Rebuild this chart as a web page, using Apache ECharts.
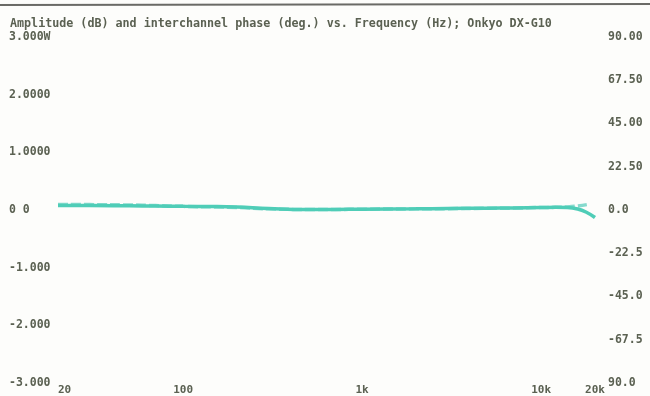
<!DOCTYPE html>
<html lang="en">
<head>
    <meta charset="UTF-8">
    <title>Onkyo DX-G10</title>
    <script src="https://cdn.jsdelivr.net/npm/echarts@6/dist/echarts.min.js"></script>
    <style>
        * { margin: 0; padding: 0; }
        body { background-color: #fdfdfb; overflow: hidden; }
        #main { width: 650px; height: 396px; }
    </style>
</head>
<body>
<div id="main"></div>
<script type="text/javascript">
    // frequencies (Hz)
    var freq = [20, 30, 50, 70, 100, 150, 200, 300, 500, 700, 1000, 2000, 3000, 5000, 7000, 10000, 12000, 14000, 16000, 18000, 20000];
    // amplitude (dB), left axis
    var ampDb = [0.078, 0.078, 0.073, 0.069, 0.064, 0.061, 0.052, 0.026, 0.009, 0.009, 0.014, 0.021, 0.026, 0.031, 0.035, 0.043, 0.047, 0.043, 0.017, -0.043, -0.13];
    // interchannel phase (deg), right axis
    var phaseFreq = [20, 30, 50, 70, 100, 150, 200, 300, 500, 700, 1000, 2000, 3000, 5000, 7000, 10000, 12000, 14000, 16000, 18000];
    var phaseDeg = [2.9, 2.8, 2.6, 2.3, 1.9, 1.6, 1.3, 0.6, 0.3, 0.3, 0.4, 0.6, 0.7, 0.9, 1.0, 1.3, 1.4, 1.6, 2.1, 2.8];
    // tick labels
    var leftLabels = ['-3.000', '-2.000', '-1.000', '0 0', '1.0000', '2.0000', '3.000W'];
    var rightLabels = ['90.0', '-67.5', '-45.0', '-22.5', '0.0', '22.50', '45.00', '67.50', '90.00'];
    var title = 'Amplitude (dB) and interchannel phase (deg.) vs. Frequency (Hz); Onkyo DX-G10';

    var labelColor = '#5b6152';
    var fontFam = '"DejaVu Sans Mono", monospace';

    function pairs(xs, ys) {
        var out = [];
        for (var i = 0; i < xs.length; i++) out.push([xs[i], ys[i]]);
        return out;
    }

    var myChart = echarts.init(document.getElementById('main'));
    var option = {
        backgroundColor: '#fdfdfb',
        animation: false,
        title: {
            text: title,
            left: 10,
            top: 18,
            padding: 0,
            textStyle: { color: labelColor, fontFamily: fontFam, fontSize: 11.7, fontWeight: 'bold' }
        },
        graphic: [{
            type: 'line',
            shape: { x1: 0, y1: 5, x2: 650, y2: 4 },
            style: { stroke: '#6a6a66', lineWidth: 2 }
        }],
        grid: { left: 58, right: 55, top: 37, bottom: 12 },
        xAxis: {
            type: 'log',
            logBase: 10,
            min: 20,
            max: 20000,
            axisLine: { show: false },
            axisTick: { show: false },
            splitLine: { show: false },
            axisLabel: {
                color: labelColor,
                fontFamily: fontFam,
                fontWeight: 'bold',
                fontSize: 11,
                margin: 2,
                showMinLabel: true,
                showMaxLabel: true,
                alignMinLabel: 'left',
                formatter: function (v) {
                    v = Math.round(v);
                    return v >= 1000 ? (v / 1000) + 'k' : '' + v;
                }
            }
        },
        yAxis: [{
            type: 'value',
            min: -3,
            max: 3,
            interval: 1,
            axisLine: { show: false },
            axisTick: { show: false },
            splitLine: { show: false },
            axisLabel: {
                color: labelColor,
                fontFamily: fontFam,
                fontWeight: 'bold',
                fontSize: 11.5,
                align: 'left',
                margin: 49,
                formatter: function (v, i) { return leftLabels[i]; }
            }
        }, {
            type: 'value',
            min: -90,
            max: 90,
            interval: 22.5,
            axisLine: { show: false },
            axisTick: { show: false },
            splitLine: { show: false },
            axisLabel: {
                color: labelColor,
                fontFamily: fontFam,
                fontWeight: 'bold',
                fontSize: 11.5,
                margin: 13,
                formatter: function (v, i) { return rightLabels[i]; }
            }
        }],
        series: [{
            type: 'line',
            yAxisIndex: 1,
            showSymbol: false,
            smooth: true,
            lineStyle: { color: '#86dacd', width: 3.5, type: [10, 3] },
            data: pairs(phaseFreq, phaseDeg)
        }, {
            type: 'line',
            yAxisIndex: 0,
            showSymbol: false,
            smooth: true,
            lineStyle: { color: '#4fcdb7', width: 3.5 },
            data: pairs(freq, ampDb)
        }]
    };
    myChart.setOption(option);
</script>
</body>
</html>
